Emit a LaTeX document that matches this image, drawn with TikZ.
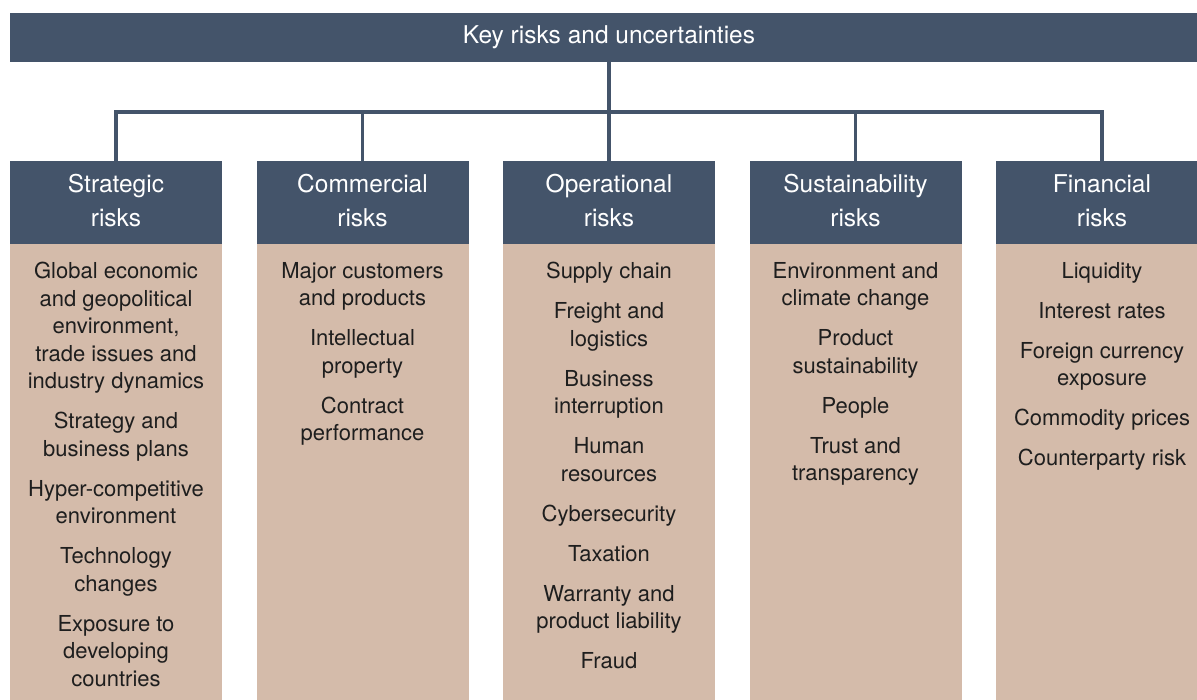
\documentclass[tikz,border=0pt]{standalone}
\usepackage{fontspec}
\setmainfont{TeX Gyre Heros}
\usetikzlibrary{positioning}
\definecolor{krNavy}{HTML}{44546A}
\definecolor{krSand}{HTML}{D4BBAA}
\definecolor{krInk}{HTML}{1E1E1E}
\newcommand{\riskgap}{\\[12.5pt]}
% one column: name, centre x, heading, entries
\newcommand{\riskcolumn}[4]{%
  \node[head] (#1) at (#2,202.5) {#3};
  \node[sand, below=0pt of #1] (#1body) {};
  \node[entries, below=18pt of #1.south] (#1list) {#4};
  \draw[link] (#1.north) |- (bus);
}

\begin{document}
\begin{tikzpicture}[
    x=1pt, y=-1pt,
    bar/.style={fill=krNavy, text=white, minimum width=1198pt, minimum height=49pt,
      inner sep=0pt, font=\fontsize{24.5}{30}\selectfont},
    head/.style={fill=krNavy, text=white, minimum width=212pt, minimum height=83pt,
      inner sep=0pt, align=center, text depth=4pt, font=\fontsize{24.5}{34}\selectfont},
    sand/.style={fill=krSand, minimum width=212pt, minimum height=470pt, inner sep=0pt,
      anchor=north},
    entries/.style={text=krInk, align=center, inner sep=0pt, anchor=north,
      font=\fontsize{22}{27.5}\selectfont},
    link/.style={draw=krNavy, line width=3.6pt}
  ]
  \useasboundingbox (0,0) rectangle (1197,700);

  \node[bar] (keyrisks) at (609,37.5) {Key risks and uncertainties};
  \coordinate (bus) at (609,112);
  \draw[link] (keyrisks.south) -- (bus);

  \riskcolumn{strat}{116}{Strategic\\risks}{Global economic\\and geopolitical\\environment,\\trade issues and\\industry dynamics\riskgap
    Strategy and\\business plans\riskgap Hyper-competitive\\environment\riskgap
    Technology\\changes\riskgap Exposure to\\developing\\countries}
  \riskcolumn{comm}{362.5}{Commercial\\risks}{Major customers\\and products\riskgap
    Intellectual\\property\riskgap Contract\\performance}
  \riskcolumn{oper}{609}{Operational\\risks}{Supply chain\riskgap Freight and\\logistics\riskgap
    Business\\interruption\riskgap Human\\resources\riskgap Cybersecurity\riskgap
    Taxation\riskgap Warranty and\\product liability\riskgap Fraud}
  \riskcolumn{sust}{855.5}{Sustainability\\risks}{Environment and\\climate change\riskgap
    Product\\sustainability\riskgap People\riskgap Trust and\\transparency}
  \riskcolumn{fin}{1102}{Financial\\risks}{Liquidity\riskgap Interest rates\riskgap
    Foreign currency\\exposure\riskgap Commodity prices\riskgap Counterparty risk}
\end{tikzpicture}
\end{document}
